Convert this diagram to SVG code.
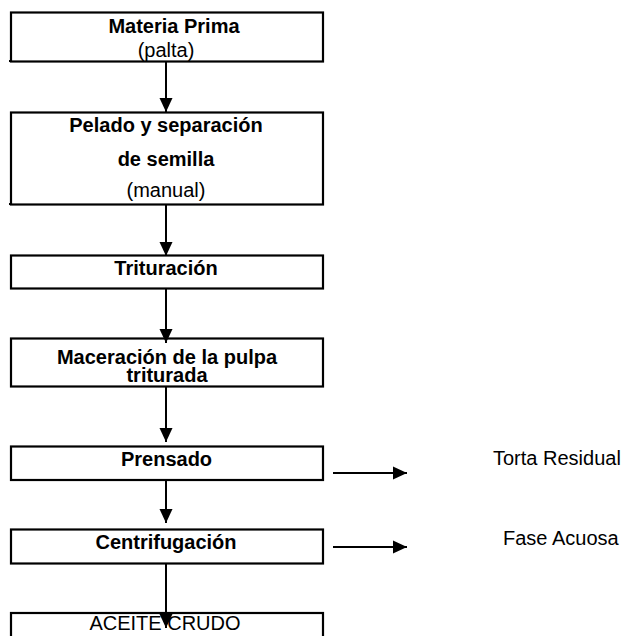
<svg xmlns="http://www.w3.org/2000/svg" width="629" height="636" viewBox="0 0 629 636">
  <defs>
    <marker id="ah" viewBox="0 0 14 14" refX="14" refY="7" markerWidth="14" markerHeight="14" markerUnits="userSpaceOnUse" orient="auto">
      <path d="M0,0.5 L14,7 L0,13.5 Z" fill="#000"/>
    </marker>
    <style>
      .box{fill:#fff;stroke:#000;stroke-width:2.2}
      .t{font-family:"Liberation Sans",Arial,sans-serif;font-size:20px;fill:#000;text-anchor:middle}
      .b{font-weight:bold}
      .side{font-family:"Liberation Sans",Arial,sans-serif;font-size:20px;fill:#000}
      .c{stroke:#000;stroke-width:2;fill:none;marker-end:url(#ah)}
    </style>
  </defs>
  <rect width="629" height="636" fill="#fff"/>
  <g id="n1">
    <rect class="box" x="11" y="12.5" width="312" height="49"/>
    <line x1="9" y1="61" x2="12" y2="61" stroke="#000" stroke-width="2"/>
    <text class="t b" x="174" y="33">Materia Prima</text>
    <text class="t" x="166" y="57">(palta)</text>
  </g>
  <g id="n2">
    <rect class="box" x="11" y="112.5" width="312" height="92"/>
    <line x1="9" y1="204" x2="12" y2="204" stroke="#000" stroke-width="2"/>
    <text class="t b" x="166" y="132">Pelado y separación</text>
    <text class="t b" x="166" y="165.5">de semilla</text>
    <text class="t" x="166" y="196.5">(manual)</text>
  </g>
  <g id="n3">
    <rect class="box" x="11" y="255.5" width="312" height="33"/>
    <text class="t b" x="166" y="275">Trituración</text>
  </g>
  <g id="n4">
    <rect class="box" x="11" y="338.5" width="312" height="48"/>
    <text class="t b" x="167" y="364">Maceración de la pulpa</text>
    <text class="t b" x="167" y="382">triturada</text>
  </g>
  <g id="n5">
    <rect class="box" x="11" y="446.5" width="312" height="33.5"/>
    <text class="t b" x="166.5" y="466">Prensado</text>
  </g>
  <g id="n6">
    <rect class="box" x="11" y="529.5" width="312" height="34"/>
    <text class="t b" x="166" y="549">Centrifugación</text>
  </g>
  <g id="n7">
    <rect class="box" x="11" y="613" width="312" height="40"/>
    <text class="t" x="165" y="630">ACEITE CRUDO</text>
  </g>
  <g id="n8">
    <text class="side" x="493" y="465">Torta Residual</text>
  </g>
  <g id="n9">
    <text class="side" x="503" y="545">Fase Acuosa</text>
  </g>
  <g id="connectors">
    <line class="c" x1="166" y1="62" x2="166" y2="112"/>
    <line class="c" x1="166" y1="205" x2="166" y2="256"/>
    <line class="c" x1="166" y1="289" x2="166" y2="343"/>
    <line class="c" x1="166" y1="387" x2="166" y2="442"/>
    <line class="c" x1="166" y1="480" x2="166" y2="523"/>
    <line class="c" x1="166" y1="564" x2="166" y2="628"/>
    <line class="c" x1="333" y1="473" x2="407" y2="473"/>
    <line class="c" x1="333" y1="547" x2="407" y2="547"/>
  </g>
</svg>
